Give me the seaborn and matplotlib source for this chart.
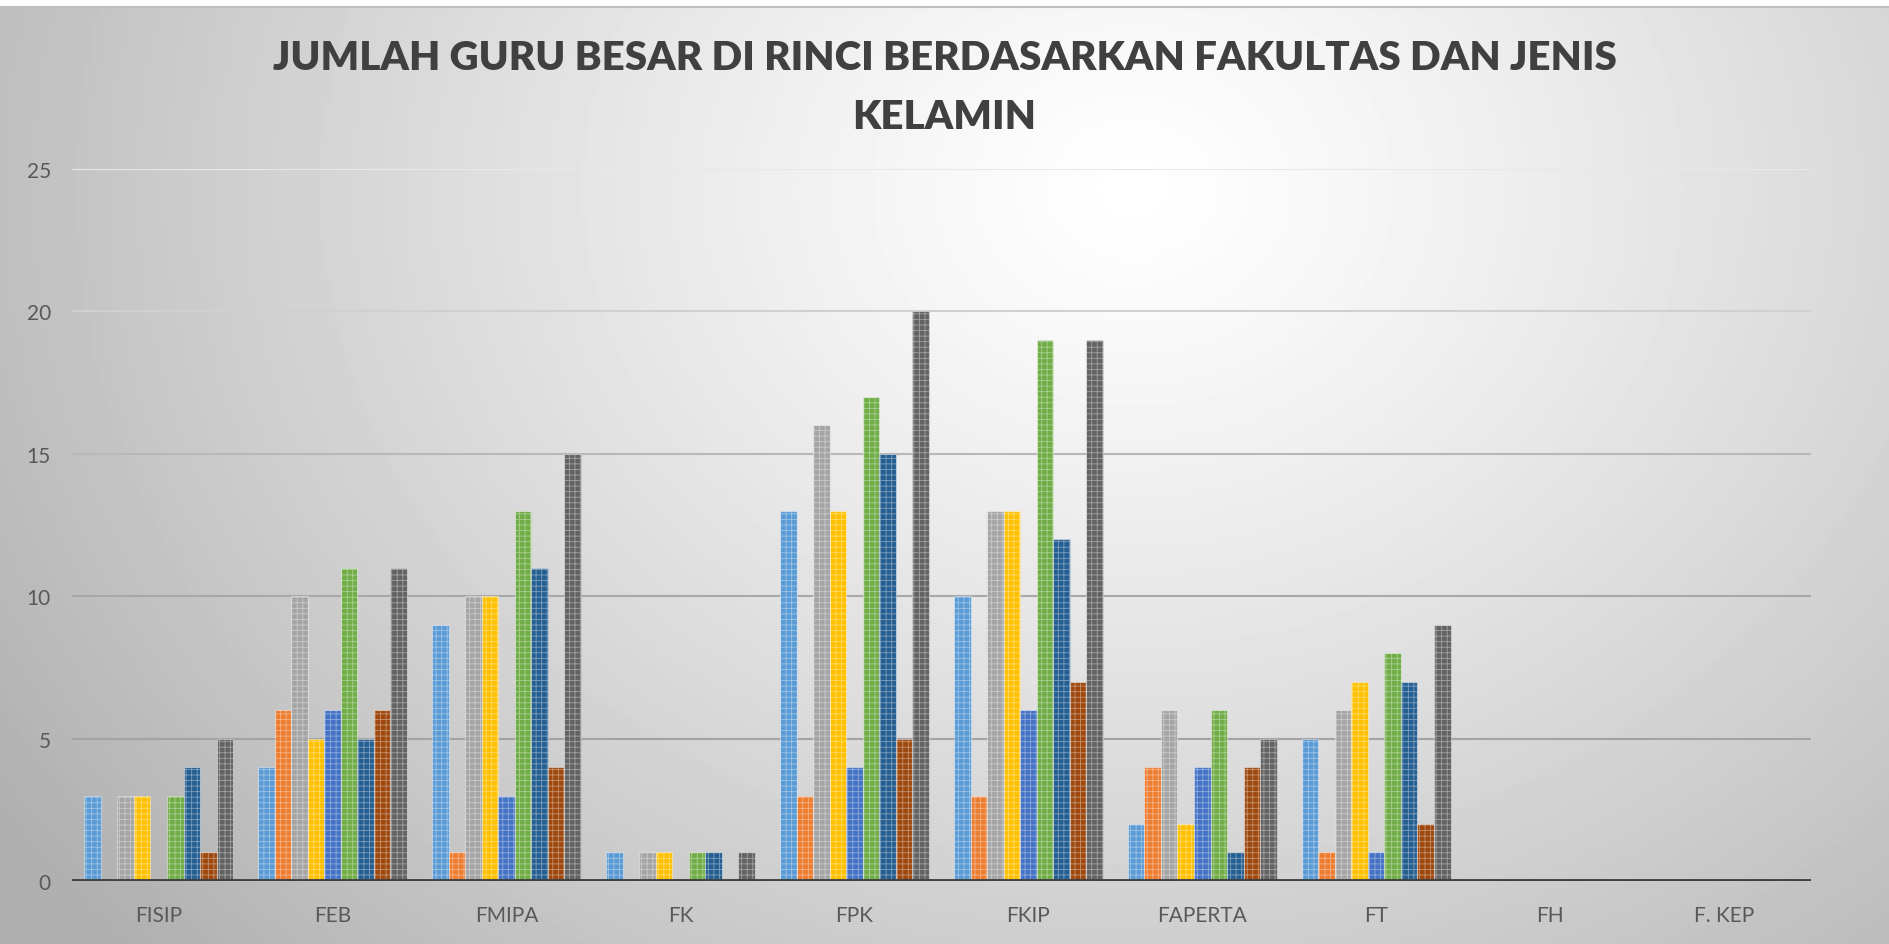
import numpy as np
import pandas as pd
import matplotlib
matplotlib.use("Agg")
import matplotlib.pyplot as plt
import seaborn as sns

# data
fakultas = ["FISIP", "FEB", "FMIPA", "FK", "FPK", "FKIP", "FAPERTA", "FT", "FH", "F. KEP"]
seri = ["Seri 1", "Seri 2", "Seri 3", "Seri 4", "Seri 5", "Seri 6", "Seri 7", "Seri 8", "Seri 9"]
seri_1 = [3, 4, 9, 1, 13, 10, 2, 5, 0, 0]
seri_2 = [0, 6, 1, 0, 3, 3, 4, 1, 0, 0]
seri_3 = [3, 10, 10, 1, 16, 13, 6, 6, 0, 0]
seri_4 = [3, 5, 10, 1, 13, 13, 2, 7, 0, 0]
seri_5 = [0, 6, 3, 0, 4, 6, 4, 1, 0, 0]
seri_6 = [3, 11, 13, 1, 17, 19, 6, 8, 0, 0]
seri_7 = [4, 5, 11, 1, 15, 12, 1, 7, 0, 0]
seri_8 = [1, 6, 4, 0, 5, 7, 4, 2, 0, 0]
seri_9 = [5, 11, 15, 1, 20, 19, 5, 9, 0, 0]
y_ticks = [0, 5, 10, 15, 20, 25]

warna = ["#5B9BD5", "#ED7D31", "#A5A5A5", "#FFC000", "#4472C4",
         "#70AD47", "#255E91", "#9E480E", "#636363"]

nilai = [seri_1, seri_2, seri_3, seri_4, seri_5, seri_6, seri_7, seri_8, seri_9]
df = pd.DataFrame({
    "fakultas": fakultas * len(seri),
    "seri": np.repeat(seri, len(fakultas)),
    "jumlah": np.concatenate(nilai),
})

plt.rcParams["font.family"] = ["Lato", "DejaVu Sans"]
plt.rcParams["hatch.linewidth"] = 0.6

fig = plt.figure(figsize=(18.89, 9.45), dpi=100)

# background gradient (grey radial fill)
bg = fig.add_axes([0, 0, 1, 1], zorder=-10)
xx, yy = np.meshgrid(np.linspace(0, 1, 400), np.linspace(0, 1, 200))
r = np.sqrt(((xx - 0.6) / 0.6) ** 2 + ((yy - 0.2) / 1.0) ** 2)
val = 1.0 - 0.25 * np.clip(r, 0, 1.2) ** 1.2
bg.imshow(val, cmap="gray", vmin=0, vmax=1, aspect="auto", extent=[0, 1, 1, 0])
bg.set_xlim(0, 1)
bg.set_ylim(1, 0)
bg.axis("off")
bg.axhspan(0, 0.007, color="white")
bg.axhline(0.008, color="#c0c0c0", lw=1.5)

ax = fig.add_axes([0.038, 0.0667, 0.9207, 0.7533])
ax.patch.set_alpha(0)

# gridlines, lighter towards the top like the reference
grid_warna = {5: "#a3a3a3", 10: "#a8a8a8", 15: "#b8b8b8", 20: "#d0d0d0", 25: "#e8e8e8"}
for t, c in grid_warna.items():
    ax.axhline(t, color=c, lw=1.5, zorder=0)

sns.barplot(data=df, x="fakultas", y="jumlah", hue="seri", order=fakultas,
            hue_order=seri, palette=warna, width=0.855, saturation=1,
            legend=False, ax=ax, zorder=2)

for p in ax.patches:
    p.set_hatch("+++")
    p.set_edgecolor((1, 1, 1, 0.4))
    p.set_linewidth(0.8)

ax.axhline(0, color="#404040", lw=3.5, zorder=5)

ax.set_xlim(-0.5, 9.5)
ax.set_ylim(0, 25)
ax.set_yticks(y_ticks)
ax.set_xlabel("")
ax.set_ylabel("")
for s in ax.spines.values():
    s.set_visible(False)
ax.tick_params(axis="both", length=0, labelsize=15, labelcolor="#595959")
ax.tick_params(axis="y", pad=15)
ax.tick_params(axis="x", pad=17)

fig.text(0.5, 0.938, "JUMLAH GURU BESAR DI RINCI BERDASARKAN FAKULTAS DAN JENIS",
         ha="center", va="center", fontsize=29, fontweight="heavy", color="#404040")
fig.text(0.5, 0.876, "KELAMIN", ha="center", va="center", fontsize=29,
         fontweight="heavy", color="#404040")

fig.savefig("out.png", dpi=100)
